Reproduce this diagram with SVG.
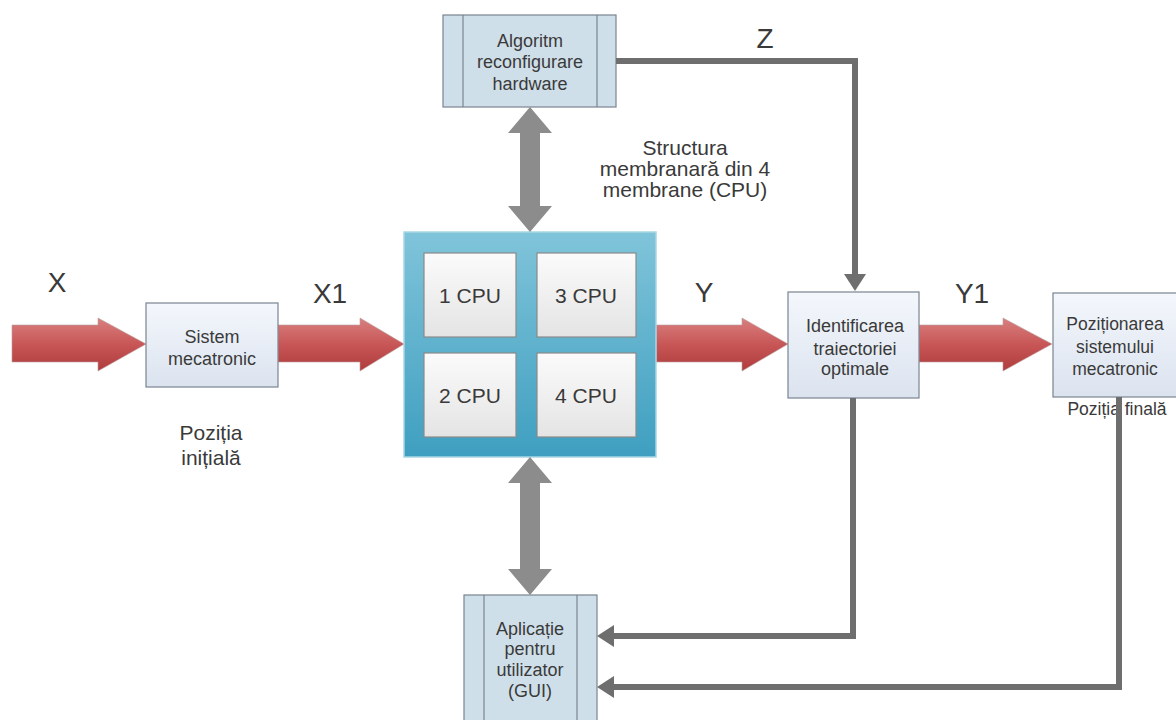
<svg xmlns="http://www.w3.org/2000/svg" width="1176" height="720" viewBox="0 0 1176 720">
<defs>
<linearGradient id="gBox" x1="0" y1="0" x2="0" y2="1"><stop offset="0" stop-color="#f4f7fc"/><stop offset="1" stop-color="#dbe3ef"/></linearGradient>
<linearGradient id="gCpu" x1="0" y1="0" x2="0" y2="1"><stop offset="0" stop-color="#fbfbfb"/><stop offset="1" stop-color="#e4e4e4"/></linearGradient>
<linearGradient id="gMem" x1="0" y1="0" x2="0" y2="1"><stop offset="0" stop-color="#80c4da"/><stop offset="1" stop-color="#3f9fc0"/></linearGradient>
<linearGradient id="gRed" x1="0" y1="0" x2="0" y2="1"><stop offset="0" stop-color="#d98080"/><stop offset="0.5" stop-color="#c85656"/><stop offset="1" stop-color="#b03c3c"/></linearGradient>
</defs>
<style>
text{font-family:"Liberation Sans",Arial,sans-serif;fill:#3a3a3a;text-anchor:middle}
.t{font-size:18px}
.t2{font-size:17.5px}
.big{font-size:28px}
.cpu{font-size:21px}
.lbl{font-size:21px}
.box{fill:url(#gBox);stroke:#7a8490;stroke-width:1.2}
.sub{fill:#cfdfe9;stroke:#7a8490;stroke-width:1.2}
.cbox{fill:url(#gCpu);stroke:#8a8a8a;stroke-width:1.2}
.red{fill:url(#gRed);stroke:#b9a0a0;stroke-width:0.6}
.dbl{fill:#8c8c8c}
.con{fill:none;stroke:#6e6e6e;stroke-width:6;stroke-linejoin:miter}
.div{stroke:#7a8490;stroke-width:1.2}
.head{fill:#6e6e6e}
</style>
<rect width="1176" height="720" fill="#ffffff"/>

<g id="labels">
<text class="big" x="57" y="292">X</text>
<text class="big" x="330" y="303">X1</text>
<text class="big" x="704" y="302">Y</text>
<text class="big" x="972" y="303">Y1</text>
<text class="big" x="765" y="48">Z</text>
<text class="lbl" x="685" y="155">Structura</text>
<text class="lbl" x="685" y="176">membranară din 4</text>
<text class="lbl" x="685" y="197">membrane (CPU)</text>
<text class="lbl" x="211" y="440">Poziția</text>
<text class="lbl" x="211" y="465">inițială</text>
<text class="t2" x="1117" y="415">Poziția finală</text>
</g>

<g id="flow-arrows">
<path class="red" d="M12,325 H98 V318 L146,344 L98,371 V362 H12 Z"/>
<path class="red" d="M278,325 H360 V318 L404,344 L360,371 V362 H278 Z"/>
<path class="red" d="M656,325 H742 V318 L788,344 L742,371 V362 H656 Z"/>
<path class="red" d="M919,325 H1003 V318 L1052,344 L1003,371 V362 H919 Z"/>
</g>

<g id="node-sistem">
<rect class="box" x="146" y="303" width="132" height="84"/>
<text class="t" x="212" y="343">Sistem</text>
<text class="t" x="212" y="365">mecatronic</text>
</g>

<g id="node-algoritm">
<rect class="sub" x="443" y="15" width="173" height="92"/>
<line class="div" x1="463" y1="15" x2="463" y2="107"/>
<line class="div" x1="597" y1="15" x2="597" y2="107"/>
<text class="t" x="530" y="47">Algoritm</text>
<text class="t" x="530" y="68">reconfigurare</text>
<text class="t" x="530" y="90">hardware</text>
</g>

<g id="node-membrane">
<rect x="404" y="232" width="252" height="225" fill="url(#gMem)" stroke="#a9d6e4" stroke-width="1.5"/>
<g id="cpu1"><rect class="cbox" x="424" y="253" width="92" height="84"/><text class="cpu" x="470" y="303">1 CPU</text></g>
<g id="cpu3"><rect class="cbox" x="537" y="253" width="99" height="84"/><text class="cpu" x="586" y="303">3 CPU</text></g>
<g id="cpu2"><rect class="cbox" x="424" y="353" width="92" height="84"/><text class="cpu" x="470" y="403">2 CPU</text></g>
<g id="cpu4"><rect class="cbox" x="537" y="353" width="99" height="84"/><text class="cpu" x="586" y="403">4 CPU</text></g>
</g>

<g id="node-identificarea">
<rect class="box" x="788" y="292" width="131" height="106"/>
<text class="t" x="855" y="332">Identificarea</text>
<text class="t" x="855" y="355">traiectoriei</text>
<text class="t" x="855" y="375">optimale</text>
</g>

<g id="node-pozitionarea">
<rect class="box" x="1053" y="293" width="130" height="104"/>
<text class="t2" x="1115" y="330">Poziționarea</text>
<text class="t2" x="1115" y="353">sistemului</text>
<text class="t2" x="1115" y="375">mecatronic</text>
</g>

<g id="node-gui">
<rect class="sub" x="464" y="595" width="133" height="135"/>
<line class="div" x1="484" y1="595" x2="484" y2="720"/>
<line class="div" x1="577" y1="595" x2="577" y2="720"/>
<text class="t" x="530" y="635">Aplicație</text>
<text class="t" x="530" y="655">pentru</text>
<text class="t" x="530" y="676">utilizator</text>
<text class="t" x="530" y="697">(GUI)</text>
</g>

<g id="connectors">
<path class="dbl" d="M530,107 L552,133 H540 V206 H552 L530,232 L508,206 H520 V133 H508 Z"/>
<path class="dbl" d="M530,457 L552,483 H540 V569 H552 L530,595 L508,569 H520 V483 H508 Z"/>
<path class="con" d="M616,61 H855 V276"/>
<path class="head" d="M844,274 L866,274 L855,291 Z"/>
<path class="con" d="M853,398 V636 H612"/>
<path class="head" d="M614,625 L614,647 L597,636 Z"/>
<path class="con" d="M1119,397 V687 H612"/>
<path class="head" d="M614,676 L614,698 L597,687 Z"/>
</g>
</svg>
